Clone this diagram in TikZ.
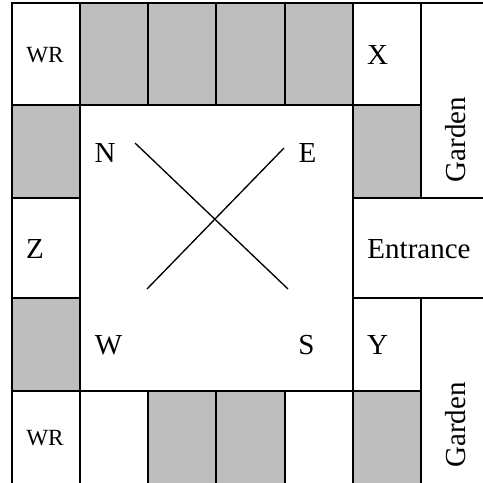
\documentclass[tikz,border=0pt]{standalone}
\usepackage{fontspec}
\setmainfont{Liberation Serif}
\definecolor{roomgrey}{RGB}{190,190,190}
\tikzset{
  wall/.style={draw=black, line width=1.35pt},
  room/.style={fill=roomgrey},
  big/.style={anchor=base, inner sep=0pt, font=\fontsize{21.75}{26}\selectfont},
  small/.style={anchor=base, inner sep=0pt, font=\fontsize{17.4}{21}\selectfont}
}

\begin{document}
\begin{tikzpicture}[x=0.75pt, y=-0.75pt]
  \useasboundingbox (0,0) rectangle (483,483);
  % grey rooms
  \foreach \xa/\ya/\xb/\yb in {80/3/353/105, 12/105/80/198, 353/105/421/198,
      12/298/80/391, 148/391/285/483, 353/391/421/483}
    \fill[room] (\xa,\ya) rectangle (\xb,\yb);
  % walls
  \draw[wall] (12,483) -- (12,3) -- (483,3);
  \draw[wall] (12,105) -- (421,105);
  \draw[wall] (12,198) -- (80,198);
  \draw[wall] (353,198) -- (483,198);
  \draw[wall] (12,298) -- (80,298);
  \draw[wall] (353,298) -- (483,298);
  \draw[wall] (12,391) -- (421,391);
  \draw[wall] (80,3) -- (80,483);
  \draw[wall] (148,3) -- (148,105);
  \draw[wall] (216,3) -- (216,105);
  \draw[wall] (285,3) -- (285,105);
  \draw[wall] (148,391) -- (148,483);
  \draw[wall] (216,391) -- (216,483);
  \draw[wall] (285,391) -- (285,483);
  \draw[wall] (353,3) -- (353,483);
  \draw[wall] (421,3) -- (421,198);
  \draw[wall] (421,298) -- (421,483);
  % cross
  \coordinate (nw) at (135,143);
  \coordinate (se) at (288,289);
  \coordinate (ne) at (284,148);
  \coordinate (sw) at (147,289);
  \draw[line width=1pt] (nw) -- (se);
  \draw[line width=1pt] (ne) -- (sw);
  % labels
  \node[small] (wrtop) at (45,62) {WR};
  \node[small] (wrbot) at (45,445) {WR};
  \node[big] (north) at (105,162) {N};
  \node[big] (east) at (307.5,162) {E};
  \node[big] (west) at (108.5,354) {W};
  \node[big] (south) at (306.5,354) {S};
  \node[big] (x) at (377.5,64) {X};
  \node[big] (y) at (377.5,354) {Y};
  \node[big] (z) at (35,258) {Z};
  \node[big] (entrance) at (419,258) {Entrance};
  \node[big, rotate=90] (gardentop) at (465,139.5) {Garden};
  \node[big, rotate=90] (gardenbot) at (465,425) {Garden};
\end{tikzpicture}
\end{document}
